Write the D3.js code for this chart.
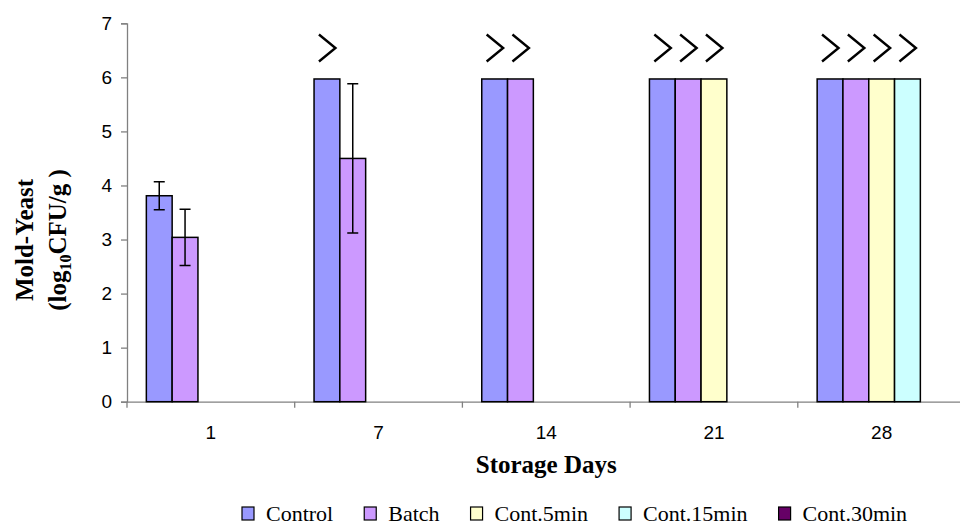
<!DOCTYPE html>
<meta charset="utf-8">
<style>
body { margin: 0; background: #fff; }
.axis path, .axis line { stroke: #808080; stroke-width: 1.3px; }
.axis text { font: 19px "Liberation Sans", Arial, sans-serif; fill: #000; }
.title { font: bold 25px "Liberation Serif", "Times New Roman", serif; fill: #000; }
.bar { stroke: #000; stroke-width: 1.5px; }
.err { stroke: #000; stroke-width: 1.5px; fill: none; }
.chev { stroke: #000; stroke-width: 2.4px; fill: none; }
</style>
<body>
<script src="https://d3js.org/d3.v7.min.js"></script>
<script>

// data
var days = ["1", "7", "14", "21", "28"];
var seriesNames = ["Control", "Batch", "Cont.5min", "Cont.15min", "Cont.30min"];
var colors = ["#9999ff", "#cc99ff", "#ffffcc", "#ccffff", "#660066"];
var control = [3.81, 5.97, 5.97, 5.97, 5.97];
var batch = [3.04, 4.50, 5.97, 5.97, 5.97];
var cont5 = [0, 0, 0, 5.97, 5.97];
var cont15 = [0, 0, 0, 0, 5.97];
var cont30 = [0, 0, 0, 0, 0];
var controlErr = [0.26, 0, 0, 0, 0];
var batchErr = [0.52, 1.38, 0, 0, 0];
var cont5Err = [0, 0, 0, 0, 0];
var cont15Err = [0, 0, 0, 0, 0];
var cont30Err = [0, 0, 0, 0, 0];
var yTicks = [0, 1, 2, 3, 4, 5, 6, 7];
var limit = 5.97; // upper count limit, marked with ">"

var values = [control, batch, cont5, cont15, cont30];
var errors = [controlErr, batchErr, cont5Err, cont15Err, cont30Err];

// dimensions
var margin = {top: 23.3, left: 127},
  width = 838.5,
  height = 378.4;

var svg = d3.select("body").append("svg")
  .attr("width", 960)
  .attr("height", 527);

var g = svg.append("g")
  .attr("transform", "translate(" + margin.left + "," + margin.top + ")");

var x0 = d3.scaleBand().domain(days).range([0, width]);
var x1 = d3.scaleBand().domain(seriesNames).range([0, x0.bandwidth()])
  .paddingInner(0).paddingOuter(0.75);
var y = d3.scaleLinear().domain([0, 7]).range([height, 0]);

// flat list of bars
var bars = [];
days.forEach(function(d, i) {
  seriesNames.forEach(function(s, j) {
    bars.push({day: d, series: s, color: colors[j], value: values[j][i], err: errors[j][i]});
  });
});

// axes
var yAxis = g.append("g").attr("class", "axis")
  .call(d3.axisLeft(y).tickValues(yTicks).tickFormat(d3.format("d"))
    .tickSize(6).tickPadding(9));

var xAxis = g.append("g").attr("class", "axis")
  .attr("transform", "translate(0," + height + ")")
  .call(d3.axisBottom(x0).tickSize(0).tickPadding(24));
xAxis.selectAll("text").attr("dy", "0.71em");
// category boundary ticks
xAxis.selectAll(".sep")
  .data(days)
  .enter().append("line")
    .attr("class", "sep")
    .attr("x1", function(d) { return x0(d); })
    .attr("x2", function(d) { return x0(d); })
    .attr("y1", 0).attr("y2", 6);

// bars
g.selectAll(".bar")
  .data(bars.filter(function(d) { return d.value > 0; }))
  .enter().append("rect")
    .attr("class", "bar")
    .attr("x", function(d) { return x0(d.day) + x1(d.series); })
    .attr("y", function(d) { return y(d.value); })
    .attr("width", x1.bandwidth())
    .attr("height", function(d) { return height - y(d.value); })
    .style("fill", function(d) { return d.color; });

// error bars
var eb = g.selectAll(".errbar")
  .data(bars.filter(function(d) { return d.err > 0; }))
  .enter().append("g")
    .attr("class", "errbar")
    .attr("transform", function(d) {
      return "translate(" + (x0(d.day) + x1(d.series) + x1.bandwidth() / 2) + ",0)"; });
eb.append("path")
  .attr("class", "err")
  .attr("d", function(d) {
    var t = y(d.value + d.err), b = y(d.value - d.err);
    return "M0," + t + "V" + b + "M-5.5," + t + "H5.5M-5.5," + b + "H5.5";
  });

// ">" markers over bars at the upper limit
g.selectAll(".chev")
  .data(bars.filter(function(d) { return d.value >= limit; }))
  .enter().append("path")
    .attr("class", "chev")
    .attr("transform", function(d) {
      return "translate(" + (x0(d.day) + x1(d.series) + x1.bandwidth() / 2) + "," + (y(d.value) - 31) + ")"; })
    .attr("d", "M-8,-13.5L8.5,0L-8,13.5");

// axis titles
var yt = svg.append("text")
  .attr("class", "title")
  .attr("transform", "translate(33,240) rotate(-90)")
  .attr("text-anchor", "middle");
yt.append("tspan").attr("x", 0).attr("y", 0).text("Mold-Yeast");
var yt2 = svg.append("text")
  .attr("class", "title")
  .attr("transform", "translate(66,240) rotate(-90)")
  .attr("text-anchor", "middle");
yt2.append("tspan").text("(log");
yt2.append("tspan").attr("dy", 5).style("font-size", "16px").text("10");
yt2.append("tspan").attr("dy", -5).text("CFU/g )");

svg.append("text")
  .attr("class", "title")
  .attr("x", margin.left + width / 2)
  .attr("y", 473)
  .attr("text-anchor", "middle")
  .text("Storage Days");

// legend
var legend = svg.append("g");
var lx = 242;
seriesNames.forEach(function(s, i) {
  var item = legend.append("g").attr("transform", "translate(" + lx + ",507)");
  item.append("rect")
    .attr("width", 12).attr("height", 13)
    .style("fill", colors[i])
    .style("stroke", "#000").style("stroke-width", 1.2);
  var t = item.append("text")
    .attr("x", 24).attr("y", 14)
    .style("font-family", "'Liberation Serif', 'Times New Roman', serif")
    .style("font-size", "22px")
    .style("fill", "#000")
    .text(s);
  lx += 24 + t.node().getComputedTextLength() + 31;
});

</script>
</body>
